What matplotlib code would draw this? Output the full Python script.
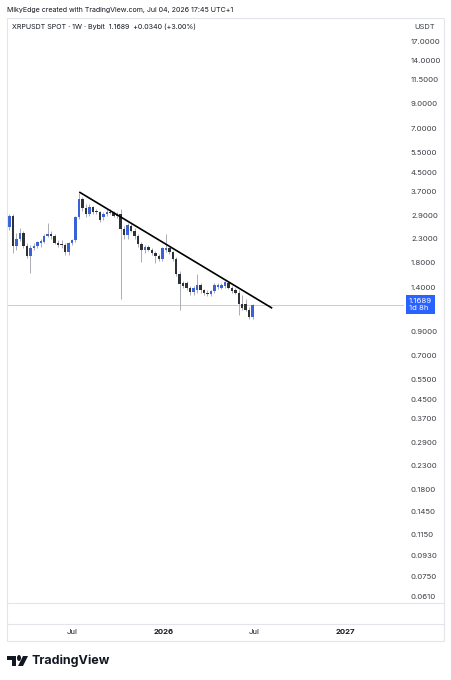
import datetime as dt

import matplotlib
matplotlib.use("Agg")
from matplotlib import pyplot as plt
import matplotlib.dates as mdates
from matplotlib import transforms
from matplotlib.patches import Rectangle, Polygon, Circle
from matplotlib.ticker import NullLocator

# ---------------- data ----------------
first_week = dt.date(2025, 2, 24)

opens = [2.58, 2.90, 2.13, 2.28, 2.44, 2.13, 1.92, 2.08, 2.13, 2.20,
         2.23, 2.36, 2.41, 2.36, 2.20, 2.17, 2.15, 2.01, 2.19, 2.26,
         2.85, 3.42, 3.14, 2.96, 3.16, 3.04, 3.00, 2.85, 2.96, 3.02,
         2.98, 2.88, 2.96, 2.53, 2.38, 2.62, 2.49, 2.35, 2.17, 2.05,
         2.11, 2.05, 1.98, 1.92, 1.87, 2.04, 2.08, 2.00, 1.86, 1.60,
         1.47, 1.46, 1.39, 1.34, 1.36, 1.44, 1.36, 1.33, 1.31, 1.35,
         1.41, 1.40, 1.42, 1.47, 1.39, 1.36, 1.33, 1.18, 1.18, 1.12,
         1.04]
highs = [2.95, 2.95, 2.44, 2.55, 2.48, 2.20, 2.15, 2.20, 2.25, 2.28,
         2.40, 2.68, 2.48, 2.40, 2.26, 2.26, 2.20, 2.22, 2.30, 2.90,
         3.66, 3.50, 3.25, 3.25, 3.20, 3.10, 3.05, 3.00, 3.10, 3.10,
         3.05, 3.00, 3.10, 2.60, 2.70, 2.66, 2.55, 2.40, 2.22, 2.15,
         2.16, 2.10, 2.02, 1.96, 2.12, 2.41, 2.12, 2.03, 1.90, 1.65,
         1.50, 1.50, 1.42, 1.42, 1.60, 1.47, 1.38, 1.36, 1.37, 1.46,
         1.46, 1.47, 1.50, 1.50, 1.42, 1.40, 1.36, 1.30, 1.25, 1.15,
         1.18]
lows = [2.50, 1.98, 2.05, 2.25, 2.08, 1.88, 1.62, 2.05, 2.10, 2.12,
        2.20, 2.33, 2.30, 2.17, 2.12, 2.10, 1.95, 1.95, 2.15, 2.22,
        2.80, 3.05, 2.85, 2.90, 2.95, 2.95, 2.72, 2.78, 2.90, 2.95,
        2.85, 2.84, 1.25, 2.30, 2.30, 2.45, 2.30, 2.12, 1.82, 1.98,
        2.02, 1.95, 1.79, 1.84, 1.84, 2.00, 1.96, 1.84, 1.58, 1.12,
        1.40, 1.36, 1.30, 1.30, 1.33, 1.33, 1.30, 1.28, 1.29, 1.33,
        1.38, 1.38, 1.40, 1.38, 1.33, 1.31, 1.06, 1.12, 1.10, 1.02,
        1.02]
closes = [2.90, 2.13, 2.28, 2.44, 2.13, 1.92, 2.08, 2.13, 2.23, 2.23,
          2.36, 2.41, 2.36, 2.20, 2.16, 2.15, 2.01, 2.19, 2.26, 2.85,
          3.42, 3.14, 2.96, 3.18, 3.02, 3.00, 2.77, 2.96, 3.02, 2.98,
          2.88, 2.96, 2.53, 2.38, 2.64, 2.49, 2.35, 2.17, 2.05, 2.11,
          2.05, 1.98, 1.92, 1.87, 2.08, 2.08, 2.00, 1.86, 1.60, 1.45,
          1.42, 1.40, 1.34, 1.39, 1.44, 1.36, 1.33, 1.31, 1.35, 1.43,
          1.43, 1.44, 1.48, 1.40, 1.35, 1.33, 1.18, 1.14, 1.12, 1.04,
          1.1689]

price_ticks = [17.0, 14.0, 11.5, 9.0, 7.0, 5.5, 4.5, 3.7, 2.9, 2.3, 1.8, 1.4,
               0.9, 0.7, 0.55, 0.45, 0.37, 0.29, 0.23, 0.18, 0.145, 0.115,
               0.093, 0.075, 0.061]
time_ticks = [dt.date(2025, 7, 1), dt.date(2026, 1, 1),
              dt.date(2026, 7, 1), dt.date(2027, 1, 1)]
time_labels = ["Jul", "2026", "Jul", "2027"]
trend_dates = [dt.date(2025, 7, 16), dt.date(2026, 8, 6)]
trend_prices = [3.67, 1.14]
last_price = 1.1689

W, H = 451, 680


def px(x0, y0, x1, y1):
    return [x0 / W, 1 - y1 / H, (x1 - x0) / W, (y1 - y0) / H]


def plot_chart():
    plt.rcParams["font.family"] = ["Inter", "DejaVu Sans"]
    fig = plt.figure(figsize=(W / 100, H / 100), dpi=100)
    fig.patch.set_facecolor("white")

    up_c = "#3a62d6"
    dn_c = "#2e3138"
    wick_c = "#a9acb4"
    line_c = "#e3e5ea"
    txt_c = "#131722"

    # frame of the chart panel
    fig.patches.append(Rectangle((7 / W, 1 - 641 / H), 437 / W, 623 / H,
                                 transform=fig.transFigure, fill=False,
                                 ec=line_c, lw=0.8))
    for yy in [603, 624]:
        fig.add_artist(plt.Line2D([7 / W, 444 / W], [1 - yy / H, 1 - yy / H],
                                  transform=fig.transFigure, color=line_c, lw=0.8))

    ax = fig.add_axes(px(7, 18, 404, 603))
    tax = fig.add_axes(px(7, 624, 404, 641), sharex=ax)

    xs = [mdates.date2num(first_week + dt.timedelta(weeks=i)) for i in range(len(closes))]
    cols = [up_c if c >= o else dn_c for o, c in zip(opens, closes)]
    ax.vlines(xs, lows, highs, color=wick_c, lw=0.7, zorder=2)
    bottoms = [min(o, c) for o, c in zip(opens, closes)]
    heights = [max(abs(c - o), 0.015 * c) for o, c in zip(opens, closes)]
    ax.bar(xs, heights, bottom=bottoms, width=5.0, color=cols, lw=0, zorder=3)

    ax.plot([mdates.date2num(d) for d in trend_dates], trend_prices,
            color="black", lw=1.2, zorder=4)
    ax.axhline(last_price, color="#b4c4ef", lw=0.6, zorder=1)

    ax.set_yscale("log")
    ax.set_ylim(0.0572, 21.5)
    ax.set_xlim(mdates.date2num(dt.date(2025, 2, 19)), mdates.date2num(dt.date(2027, 4, 30)))
    ax.yaxis.tick_right()
    ax.set_yticks(price_ticks)
    ax.set_yticklabels([f"{v:.4f}" for v in price_ticks])
    ax.yaxis.set_minor_locator(NullLocator())
    ax.tick_params(axis="y", length=0, pad=5, labelsize=5.6, labelcolor="#3b3e45")
    ax.tick_params(axis="x", length=0, labelbottom=False)
    for s in ax.spines.values():
        s.set_visible(False)

    # last price tag
    ax.annotate(f"{last_price:.4f}\n1d 8h", xy=(1.0, last_price),
                xycoords=transforms.blended_transform_factory(ax.transAxes, ax.transData),
                xytext=(3.5, 5.5), textcoords="offset points", ha="left", va="top",
                fontsize=5.6, color="white", linespacing=1.25, annotation_clip=False,
                bbox=dict(boxstyle="square,pad=0.35", fc="#2962ff", ec="none"))

    # time axis
    tax.set_ylim(0, 1)
    tax.axis("off")
    for d, lab in zip(time_ticks, time_labels):
        tax.text(mdates.date2num(d), 0.5, lab, ha="center", va="center", fontsize=5.6,
                 color=txt_c, fontweight="bold" if lab.isdigit() else "normal")

    # header
    fig.text(7 / W, 1 - 10 / H, "MikyEdge created with TradingView.com, Jul 04, 2026 17:45 UTC+1",
             fontsize=5.1, color=txt_c, va="center")
    fig.text(12 / W, 1 - 27 / H, "XRPUSDT SPOT · 1W · Bybit  1.1689  +0.0340 (+3.00%)",
             fontsize=5.1, color=txt_c, va="center")
    fig.text(414 / W, 1 - 27 / H, "USDT", fontsize=5.4, color="#3b3e45", va="center")

    # TradingView logo
    def pt(x, y):
        return (x / W, 1 - y / H)
    fig.patches.append(Polygon([pt(7, 656), pt(16, 656), pt(16, 666), pt(12, 666),
                                pt(12, 660), pt(7, 660)], closed=True,
                               transform=fig.transFigure, fc=txt_c, ec="none"))
    fig.patches.append(Circle(pt(19, 658), 2.0 / W, transform=fig.transFigure,
                              fc=txt_c, ec="none"))
    fig.patches.append(Polygon([pt(23, 656), pt(28, 656), pt(23, 666), pt(18, 666)],
                               closed=True, transform=fig.transFigure,
                               fc=txt_c, ec="none"))
    fig.text(32 / W, 1 - 661 / H, "TradingView", fontsize=9.0, fontweight="bold",
             color=txt_c, va="center")

    fig.savefig("out.png", dpi=100)


if __name__ == "__main__":
    plot_chart()
